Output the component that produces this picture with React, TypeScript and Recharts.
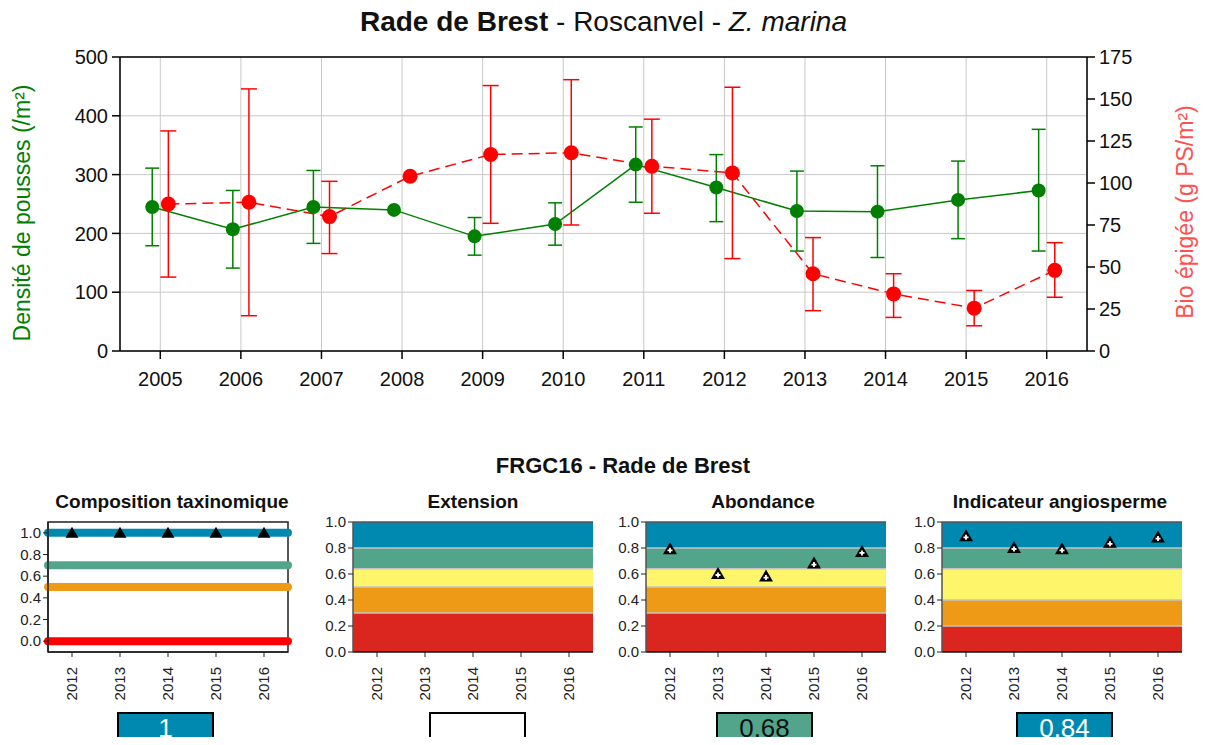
import React from "react";
import {
  ComposedChart,
  Line,
  XAxis,
  YAxis,
  CartesianGrid,
  ErrorBar,
  ReferenceLine,
  ReferenceArea,
} from "recharts";

// ── Top chart data ───────────────────────────────────────────────────────────

const YEARS = [2005, 2006, 2007, 2008, 2009, 2010, 2011, 2012, 2013, 2014, 2015, 2016];

// Densité de pousses (/m²), left axis
const DENSITY = [245, 207, 245, 240, 195, 216, 317, 278, 238, 237, 257, 273];
const DENSITY_LOW = [179, 141, 183, null, 163, 180, 253, 220, 170, 159, 191, 170];
const DENSITY_HIGH = [311, 273, 307, null, 227, 252, 381, 334, 306, 315, 323, 377];

// Bio épigée (g PS/m²), right axis
const BIOMASS = [87.5, 88.5, 80, 104, 117, 118, 110, 106, 46, 34, 25.5, 48];
const BIOMASS_LOW = [44, 21, 58, null, 76, 75, 82, 55, 24, 20, 15, 32];
const BIOMASS_HIGH = [131, 156, 101, null, 158, 161.5, 138, 157, 67.5, 46, 36, 64.5];

const LEFT_TICKS = [0, 100, 200, 300, 400, 500];
const RIGHT_TICKS = [0, 25, 50, 75, 100, 125, 150, 175];

// ── Indicator panels data ────────────────────────────────────────────────────

const IND_YEARS = ["2012", "2013", "2014", "2015", "2016"];
const IND_TICKS = [0, 0.2, 0.4, 0.6, 0.8, 1.0];

const COMPOSITION = [1, 1, 1, 1, 1];
const COMPOSITION_LEVELS = [1, 0.7, 0.5, 0];

const EXTENSION = [null, null, null, null, null];
const ABONDANCE = [0.79, 0.6, 0.58, 0.68, 0.77];
const ANGIOSPERME = [0.89, 0.8, 0.79, 0.84, 0.88];

const LIMITS_DEFAULT = [0, 0.3, 0.5, 0.64, 0.8, 1];
const LIMITS_ANGIO = [0, 0.2, 0.4, 0.64, 0.8, 1];

const SCORES = ["1", "", "0,68", "0,84"];

// ── Styles ───────────────────────────────────────────────────────────────────

const FONT = "'Liberation Sans', Arial, Helvetica, sans-serif";
const GREEN = "#008000";
const RED = "#ff0000";
const BAND_COLORS = ["#db2620", "#ee9a17", "#fff56a", "#52a58a", "#0089b0"];
const LEVEL_COLORS = ["#0089b0", "#52a58a", "#ee9a17", "#ff0000"];
const SHIFT = 0.1; // green points left of the year, red points right

const densityData = YEARS.map((year, i) => ({
  x: year - SHIFT,
  y: DENSITY[i],
  err:
    DENSITY_LOW[i] == null
      ? null
      : [DENSITY[i] - (DENSITY_LOW[i] as number), (DENSITY_HIGH[i] as number) - DENSITY[i]],
}));

const biomassData = YEARS.map((year, i) => ({
  x: year + SHIFT,
  y: BIOMASS[i],
  err:
    BIOMASS_LOW[i] == null
      ? null
      : [BIOMASS[i] - (BIOMASS_LOW[i] as number), (BIOMASS_HIGH[i] as number) - BIOMASS[i]],
}));

function TopChart() {
  return (
    <ComposedChart
      width={1207}
      height={400}
      margin={{ top: 57, right: 0, bottom: 0, left: 0 }}
      style={{ fontFamily: FONT }}
    >
      <CartesianGrid stroke="#c8c8c8" yAxisId="left" />
      <XAxis
        dataKey="x"
        type="number"
        domain={[2004.5, 2016.5]}
        ticks={YEARS}
        allowDataOverflow
        height={49}
        tickSize={8}
        tickMargin={13}
        tick={{ fontSize: 20, fill: "#111" }}
        axisLine={{ stroke: "#000", strokeWidth: 1.5 }}
        tickLine={{ stroke: "#000", strokeWidth: 1.5 }}
      />
      <YAxis
        yAxisId="left"
        domain={[0, 500]}
        ticks={LEFT_TICKS}
        width={120}
        tickSize={8}
        tickMargin={4}
        tick={{ fontSize: 20, fill: "#111" }}
        axisLine={{ stroke: "#000", strokeWidth: 1.5 }}
        tickLine={{ stroke: "#000", strokeWidth: 1.5 }}
      />
      <YAxis
        yAxisId="right"
        orientation="right"
        domain={[0, 175]}
        ticks={RIGHT_TICKS}
        width={120}
        tickSize={8}
        tickMargin={4}
        tick={{ fontSize: 20, fill: "#111" }}
        axisLine={{ stroke: "#000", strokeWidth: 1.5 }}
        tickLine={{ stroke: "#000", strokeWidth: 1.5 }}
      />
      <ReferenceLine yAxisId="left" y={500} stroke="#000" strokeWidth={1.5} />
      <Line
        data={densityData}
        dataKey="y"
        yAxisId="left"
        stroke={GREEN}
        strokeWidth={1.5}
        dot={{ r: 7, fill: GREEN, stroke: GREEN, strokeWidth: 0 }}
        isAnimationActive={false}
      >
        <ErrorBar dataKey="err" width={7} stroke={GREEN} strokeWidth={1.5} direction="y" />
      </Line>
      <Line
        data={biomassData}
        dataKey="y"
        yAxisId="right"
        stroke={RED}
        strokeWidth={1.5}
        strokeDasharray="11 6"
        dot={{ r: 7.5, fill: RED, stroke: RED, strokeWidth: 0 }}
        isAnimationActive={false}
      >
        <ErrorBar dataKey="err" width={8} stroke={RED} strokeWidth={1.5} direction="y" />
      </Line>
    </ComposedChart>
  );
}

// ── Bottom panels ────────────────────────────────────────────────────────────

function RotatedTick(props: any) {
  const { x, y, payload } = props;
  return (
    <text
      x={x}
      y={y}
      transform={`rotate(-90 ${x} ${y})`}
      textAnchor="end"
      dy="0.35em"
      fontSize={15}
      fill="#222"
    >
      {IND_YEARS[payload.value]}
    </text>
  );
}

function SolidTriangle(props: any) {
  const { cx, cy, index } = props;
  if (cx == null || cy == null) return <g key={index} />;
  return (
    <polygon
      key={index}
      points={`${cx},${cy - 6} ${cx - 6.5},${cy + 5} ${cx + 6.5},${cy + 5}`}
      fill="#000"
    />
  );
}

function CrossTriangle(props: any) {
  const { cx, cy, index } = props;
  if (cx == null || cy == null) return <g key={index} />;
  return (
    <g key={index}>
      <polygon
        points={`${cx},${cy - 7} ${cx - 7},${cy + 5} ${cx + 7},${cy + 5}`}
        fill="#000"
      />
      <path
        d={`M${cx - 2.5},${cy + 1}H${cx + 2.5}M${cx},${cy - 1.5}V${cy + 3.5}`}
        stroke="#fff"
        strokeWidth={1.8}
      />
    </g>
  );
}

const PANEL_TOP = 512;
const IND_POS = IND_YEARS.map((_, i) => i);

function panelXAxis(axisColor: string) {
  return (
    <XAxis
      dataKey="idx"
      type="number"
      domain={[-0.5, IND_YEARS.length - 0.5]}
      ticks={IND_POS}
      allowDataOverflow
      interval={0}
      height={50}
      tickSize={5}
      tickMargin={10}
      tick={<RotatedTick />}
      axisLine={{ stroke: axisColor, strokeWidth: 1.5 }}
      tickLine={{ stroke: "#222" }}
    />
  );
}

function panelYAxis(domain: [number, number], axisColor: string) {
  return (
    <YAxis
      domain={domain}
      allowDataOverflow
      ticks={IND_TICKS}
      interval={0}
      width={50}
      tickSize={5}
      tickMargin={2}
      tickFormatter={(v: number) => v.toFixed(1)}
      tick={{ fontSize: 15, fill: "#222" }}
      axisLine={{ stroke: axisColor, strokeWidth: 1.5 }}
      tickLine={{ stroke: "#222" }}
    />
  );
}

function CompositionPanel({ plotLeft }: { plotLeft: number }) {
  const data = IND_YEARS.map((_, i) => ({ idx: i, v: COMPOSITION[i] }));
  return (
    <div style={{ position: "absolute", left: plotLeft - 50, top: PANEL_TOP }}>
      <ComposedChart
        width={300}
        height={190}
        data={data}
        margin={{ top: 10, right: 10, bottom: 0, left: 0 }}
        style={{ fontFamily: FONT }}
      >
        {panelXAxis("#222")}
        {panelYAxis([-0.1, 1.1], "#222")}
        <ReferenceArea y1={-0.1} y2={1.1} fill="none" stroke="#222" strokeWidth={1.5} />
        {COMPOSITION_LEVELS.map((lvl, i) => (
          <ReferenceLine
            key={lvl}
            y={lvl}
            stroke={LEVEL_COLORS[i]}
            strokeWidth={8}
            strokeLinecap="round"
          />
        ))}
        <Line
          dataKey="v"
          stroke="none"
          dot={<SolidTriangle />}
          activeDot={false}
          isAnimationActive={false}
        />
      </ComposedChart>
    </div>
  );
}

function BandPanel({
  plotLeft,
  limits,
  values,
}: {
  plotLeft: number;
  limits: number[];
  values: (number | null)[];
}) {
  const data = IND_YEARS.map((_, i) => ({ idx: i, v: values[i] }));
  return (
    <div style={{ position: "absolute", left: plotLeft - 50, top: PANEL_TOP }}>
      <ComposedChart
        width={300}
        height={190}
        data={data}
        margin={{ top: 10, right: 10, bottom: 0, left: 0 }}
        style={{ fontFamily: FONT }}
      >
        {limits.slice(0, -1).map((lo, i) => (
          <ReferenceArea
            key={`b${i}`}
            y1={lo}
            y2={limits[i + 1]}
            fill={BAND_COLORS[i]}
            fillOpacity={1}
            stroke="none"
          />
        ))}
        {limits.slice(1, -1).map((lim) => (
          <ReferenceLine key={`l${lim}`} y={lim} stroke="#c4c4c4" strokeWidth={1.5} />
        ))}
        <ReferenceLine y={1} stroke="#555" strokeWidth={1.5} />
        {panelXAxis("#111")}
        {panelYAxis([0, 1], "#555")}
        <Line
          dataKey="v"
          stroke="none"
          dot={<CrossTriangle />}
          activeDot={false}
          isAnimationActive={false}
        />
      </ComposedChart>
    </div>
  );
}

const PANEL_TITLES = ["Composition taxinomique", "Extension", "Abondance", "Indicateur angiosperme"];
const PANEL_CENTERS = [172, 473, 763, 1060];
const PLOT_LEFTS = [48, 353, 646, 942];
const BOX_LEFTS = [117, 429, 716, 1016];
const BOX_FILLS = ["#0089b0", "#ffffff", "#52a58a", "#0089b0"];
const BOX_TEXT = ["#ffffff", "#000000", "#111111", "#ffffff"];

export default function App() {
  return (
    <div
      style={{
        position: "relative",
        width: 1207,
        height: 745,
        margin: -8,
        background: "#fff",
        fontFamily: FONT,
        overflow: "hidden",
      }}
    >
      <div
        style={{
          position: "absolute",
          left: 0,
          width: 1207,
          top: 6,
          textAlign: "center",
          fontSize: 28,
          lineHeight: "32px",
          color: "#111",
          whiteSpace: "nowrap",
        }}
      >
        <b>Rade de Brest</b> - Roscanvel - <i>Z. marina</i>
      </div>

      <div style={{ position: "absolute", left: 0, top: 0 }}>
        <TopChart />
      </div>

      <div
        style={{
          position: "absolute",
          left: 22,
          top: 213,
          transform: "translate(-50%, -50%) rotate(-90deg)",
          fontSize: 23,
          color: GREEN,
          whiteSpace: "nowrap",
        }}
      >
        Densité de pousses (/m²)
      </div>
      <div
        style={{
          position: "absolute",
          left: 1185,
          top: 212,
          transform: "translate(-50%, -50%) rotate(-90deg)",
          fontSize: 23,
          color: "#ff4f4f",
          whiteSpace: "nowrap",
        }}
      >
        Bio épigée (g PS/m²)
      </div>

      <div
        style={{
          position: "absolute",
          left: 623 - 200,
          width: 400,
          top: 453,
          textAlign: "center",
          fontSize: 22,
          fontWeight: "bold",
          lineHeight: "26px",
          color: "#111",
        }}
      >
        FRGC16 - Rade de Brest
      </div>

      {PANEL_TITLES.map((t, i) => (
        <div
          key={t}
          style={{
            position: "absolute",
            left: PANEL_CENTERS[i] - 150,
            width: 300,
            top: 490,
            textAlign: "center",
            fontSize: 19,
            fontWeight: "bold",
            lineHeight: "24px",
            color: "#111",
          }}
        >
          {t}
        </div>
      ))}

      <CompositionPanel plotLeft={PLOT_LEFTS[0]} />
      <BandPanel plotLeft={PLOT_LEFTS[1]} limits={LIMITS_DEFAULT} values={EXTENSION} />
      <BandPanel plotLeft={PLOT_LEFTS[2]} limits={LIMITS_DEFAULT} values={ABONDANCE} />
      <BandPanel plotLeft={PLOT_LEFTS[3]} limits={LIMITS_ANGIO} values={ANGIOSPERME} />

      {SCORES.map((s, i) => (
        <div
          key={i}
          style={{
            position: "absolute",
            left: BOX_LEFTS[i],
            top: 712,
            width: 97,
            height: 33,
            boxSizing: "border-box",
            border: "2.5px solid #000",
            background: BOX_FILLS[i],
            color: BOX_TEXT[i],
            fontSize: 26,
            lineHeight: "28px",
            textAlign: "center",
          }}
        >
          {s}
        </div>
      ))}
    </div>
  );
}
